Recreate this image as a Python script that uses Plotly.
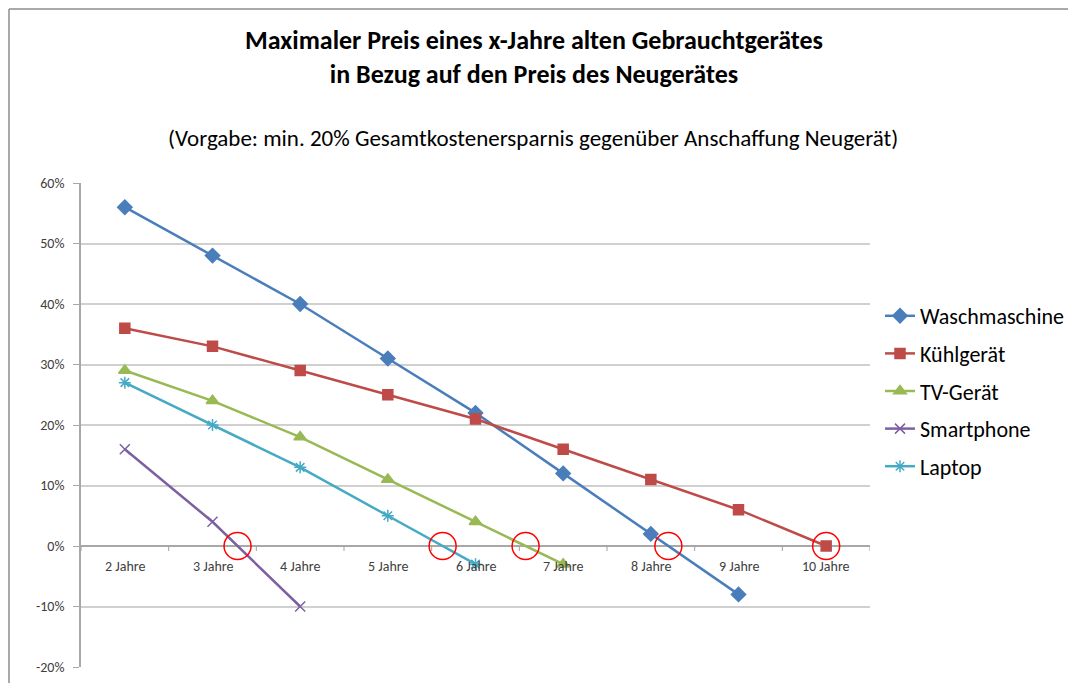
import plotly.graph_objects as go

categories = ["2 Jahre", "3 Jahre", "4 Jahre", "5 Jahre", "6 Jahre", "7 Jahre", "8 Jahre", "9 Jahre", "10 Jahre"]
waschmaschine = [56, 48, 40, 31, 22, 12, 2, -8, None]
kuehlgeraet = [36, 33, 29, 25, 21, 16, 11, 6, 0]
tv_geraet = [29, 24, 18, 11, 4, -3, None, None, None]
smartphone = [16, 4, -10, None, None, None, None, None, None]
laptop = [27, 20, 13, 5, -3, None, None, None, None]
y_ticks = [-20, -10, 0, 10, 20, 30, 40, 50, 60]
y_tick_labels = ["-20%", "-10%", "0%", "10%", "20%", "30%", "40%", "50%", "60%"]

series = [
    ("Waschmaschine", waschmaschine, "#4A7EBB", "diamond", 11),
    ("Kühlgerät", kuehlgeraet, "#BE4B48", "square", 10),
    ("TV-Gerät", tv_geraet, "#98B954", "triangle-up", 11),
    ("Smartphone", smartphone, "#7D60A0", "x-thin-open", 10),
    ("Laptop", laptop, "#46AAC5", "asterisk-open", 10),
]

FONT = "Carlito, Calibri, Lato, sans-serif"

OFF = 8  # page body margin
W, H = 1076 - 2 * OFF, 691 - 2 * OFF
L, R, T, B = 81 - OFF, 870 - OFF, 183 - OFF, 667 - OFF

xs = list(range(len(categories)))
fig = go.Figure()

for name, vals, col, sym, size in series:
    fig.add_trace(go.Scatter(
        x=xs, y=vals, name=name, mode="lines+markers",
        line=dict(color=col, width=2.5),
        marker=dict(symbol=sym, size=size, color=col, line=dict(color=col, width=1.5)),
        legendgroup=name,
    ))

# zero crossings marked with red circles
cx, cy = [], []
for name, vals, col, sym, size in series:
    v = [a for a in vals if a is not None]
    for i in range(len(v)):
        if v[i] == 0:
            cx.append(i); cy.append(0); break
        if v[i] < 0:
            cx.append(i - 1 + v[i - 1] / (v[i - 1] - v[i])); cy.append(0); break
fig.add_trace(go.Scatter(
    x=cx, y=cy, mode="markers", showlegend=False, hoverinfo="skip",
    marker=dict(symbol="circle-open", size=27, color="#FF0000", line=dict(width=1.5, color="#FF0000")),
))

# category labels below the zero line
annotations = []
for i, c in enumerate(categories):
    annotations.append(dict(x=i, y=0, xref="x", yref="y", text=c, showarrow=False,
                            yshift=-20, font=dict(family=FONT, size=14, color="#404040")))

shapes = []
for i in range(len(categories) + 1):
    shapes.append(dict(type="line", xref="x", yref="y", x0=i - 0.5, x1=i - 0.5,
                       ysizemode="pixel", yanchor=0, y0=0, y1=-5,
                       line=dict(color="#A0A0A0", width=1)))

pw, ph = R - L, B - T
def px_x(p):
    return (p - OFF - L) / pw
def px_y(p):
    return (B - (p - OFF)) / ph

# outer frame
shapes.append(dict(type="line", xref="paper", yref="paper", x0=px_x(9), x1=px_x(1100),
                   y0=px_y(9), y1=px_y(9), line=dict(color="#8C8C8C", width=1.5)))
shapes.append(dict(type="line", xref="paper", yref="paper", x0=px_x(9), x1=px_x(9),
                   y0=px_y(9), y1=px_y(700), line=dict(color="#8C8C8C", width=1.5)))

annotations.append(dict(xref="paper", yref="paper", x=px_x(534), y=px_y(57),
                        text="<b>Maximaler Preis eines x-Jahre alten Gebrauchtgerätes<br>in Bezug auf den Preis des Neugerätes</b>",
                        showarrow=False, font=dict(family=FONT, size=26, color="#000000"),
                        xanchor="center", yanchor="middle"))
annotations.append(dict(xref="paper", yref="paper", x=px_x(533), y=px_y(138),
                        text="(Vorgabe: min. 20% Gesamtkostenersparnis gegenüber Anschaffung Neugerät)",
                        showarrow=False, font=dict(family=FONT, size=23, color="#000000"),
                        xanchor="center", yanchor="middle"))

fig.update_layout(
    width=W, height=H,
    margin=dict(l=L, r=W - R, t=T, b=H - B, autoexpand=False),
    paper_bgcolor="white", plot_bgcolor="white",
    font=dict(family=FONT, color="#404040"),
    showlegend=True,
    legend=dict(x=px_x(880), y=px_y(295), xanchor="left", yanchor="top",
                font=dict(family=FONT, size=22, color="#000000"),
                traceorder="grouped", tracegroupgap=6, itemwidth=30,
                bgcolor="rgba(0,0,0,0)"),
    annotations=annotations,
    shapes=shapes,
)
fig.update_xaxes(range=[-0.5, len(categories) - 0.5], showticklabels=False, showgrid=False,
                 zeroline=False, showline=False, ticks="")
fig.update_yaxes(range=[-20, 60], tickvals=y_ticks, ticktext=y_tick_labels, showgrid=True,
                 gridcolor="#D0D0D0", gridwidth=1.5, zeroline=True, zerolinecolor="#A8A8A8",
                 zerolinewidth=1.5, showline=True, linecolor="#A8A8A8", linewidth=1.5,
                 ticks="outside", ticklen=6, tickcolor="#A8A8A8", ticklabelstandoff=6,
                 tickfont=dict(family=FONT, size=14, color="#404040"))

fig.write_html("out.html")
